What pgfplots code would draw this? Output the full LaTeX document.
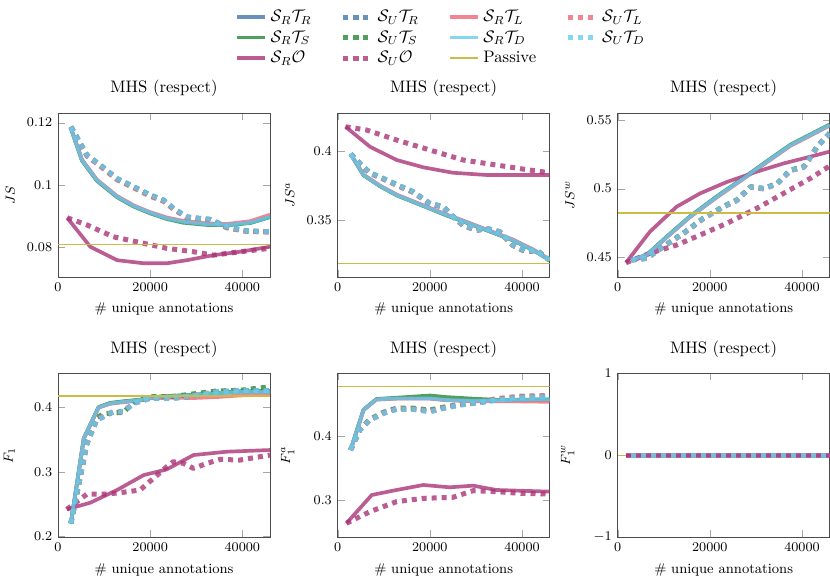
\documentclass[border=0pt]{standalone}
\usepackage{pgfplots}
\pgfplotsset{compat=1.18}
\usepackage{pgfplotstable}
\definecolor{tblue}{HTML}{4477AA}
\definecolor{tgreen}{HTML}{228833}
\definecolor{tpurple}{HTML}{AA3377}
\definecolor{tred}{HTML}{EE6677}
\definecolor{tcyan}{HTML}{66CCEE}
\definecolor{tyellow}{HTML}{CCBB44}
\pgfplotsset{
  sol/.style={line width=2.2pt, opacity=0.8},
  dot/.style={line width=3pt, opacity=0.8, dash pattern=on 3pt off 3pt},
  RR/.style={sol, tblue}, RS/.style={sol, tgreen}, RO/.style={sol, tpurple},
  RL/.style={sol, tred}, RD/.style={sol, tcyan},
  UR/.style={dot, tblue}, US/.style={dot, tgreen}, UO/.style={dot, tpurple},
  UL/.style={dot, tred}, UD/.style={dot, tcyan},
  PA/.style={tyellow, line width=0.9pt, opacity=1},
  mhs/.style={width=127.2pt, height=98.4pt, scale only axis,
    xmin=0, xmax=46000, xtick={0,20000,40000}, scaled ticks=false,
    xticklabel style={/pgf/number format/1000 sep={}},
    yticklabel style={/pgf/number format/fixed},
    title={MHS (respect)}, xlabel={\# unique annotations},
    tick label style={font=\fontsize{8.5}{10}\selectfont},
    label style={font=\fontsize{8.5}{10}\selectfont},
    ylabel style={at={(axis description cs:-0.176,0.5)}, anchor=south},
    axis line style={black!70}, tick style={black!35},
    every axis plot/.append style={line join=round}},
}
% ---------- panel 1: JS ----------
\pgfplotstableread{
x rr rs rl rd
2800 0.1182 0.1182 0.1183 0.1182
5200 0.1080 0.1078 0.1082 0.1080
8400 0.1016 0.1014 0.1018 0.1016
12800 0.0963 0.0961 0.0965 0.0963
16400 0.0933 0.0931 0.0935 0.0933
20000 0.0911 0.0909 0.0913 0.0911
23600 0.0893 0.0891 0.0896 0.0893
27200 0.0882 0.0879 0.0885 0.0882
32300 0.0874 0.0872 0.0877 0.0874
36600 0.0872 0.0871 0.0875 0.0872
41700 0.0879 0.0878 0.0884 0.0879
46000 0.0898 0.0897 0.0905 0.0898
}\pAs
\pgfplotstableread{
x ur us ul ud
2800 0.1187 0.1187 0.1186 0.1187
6300 0.1096 0.1094 0.1093 0.1096
9200 0.1064 0.1062 0.1060 0.1064
12800 0.1021 0.1019 0.1017 0.1021
16400 0.0995 0.0993 0.0991 0.0995
20000 0.0968 0.0966 0.0964 0.0968
22900 0.0952 0.0950 0.0948 0.0952
25100 0.0925 0.0923 0.0922 0.0925
27900 0.0898 0.0897 0.0896 0.0898
30800 0.0893 0.0892 0.0891 0.0893
33000 0.0890 0.0889 0.0888 0.0890
36600 0.0866 0.0864 0.0863 0.0866
40900 0.0853 0.0852 0.0851 0.0853
46000 0.0850 0.0850 0.0849 0.0850
}\pAd
% ---------- panel 2: JS^a ----------
\pgfplotstableread{
x rr rs rl rd
2800 0.3976 0.3976 0.3977 0.3976
5600 0.3825 0.3823 0.3828 0.3825
9200 0.3745 0.3743 0.3748 0.3745
12800 0.3680 0.3678 0.3684 0.3680
16400 0.3632 0.3630 0.3636 0.3632
20000 0.3584 0.3582 0.3588 0.3584
23600 0.3536 0.3533 0.3540 0.3536
27200 0.3493 0.3490 0.3497 0.3493
32300 0.3428 0.3426 0.3432 0.3428
38000 0.3356 0.3354 0.3360 0.3356
42400 0.3284 0.3283 0.3288 0.3284
46000 0.3212 0.3210 0.3215 0.3212
}\pBs
\pgfplotstableread{
x ur us ul ud
2800 0.3976 0.3976 0.3975 0.3976
4800 0.3909 0.3907 0.3905 0.3909
7000 0.3841 0.3839 0.3837 0.3841
9900 0.3800 0.3797 0.3795 0.3800
13500 0.3745 0.3742 0.3740 0.3745
16400 0.3704 0.3701 0.3699 0.3704
20000 0.3620 0.3618 0.3616 0.3620
22900 0.3596 0.3594 0.3592 0.3596
25100 0.3524 0.3522 0.3520 0.3524
27200 0.3464 0.3462 0.3460 0.3464
30100 0.3428 0.3426 0.3425 0.3428
32300 0.3440 0.3437 0.3436 0.3440
35200 0.3416 0.3413 0.3412 0.3416
38000 0.3320 0.3318 0.3317 0.3320
40900 0.3272 0.3270 0.3269 0.3272
43100 0.3284 0.3281 0.3280 0.3284
46000 0.3212 0.3210 0.3209 0.3212
}\pBd
% ---------- panel 3: JS^w ----------
\pgfplotstableread{
x rr rs rl rd
3000 0.4481 0.4481 0.4480 0.4481
6300 0.4517 0.4519 0.4515 0.4517
10700 0.4650 0.4653 0.4647 0.4650
15700 0.4796 0.4799 0.4793 0.4796
21500 0.4940 0.4944 0.4936 0.4940
27300 0.5075 0.5079 0.5071 0.5075
32400 0.5197 0.5201 0.5193 0.5197
37500 0.5317 0.5321 0.5312 0.5317
42500 0.5403 0.5407 0.5398 0.5403
46000 0.5464 0.5468 0.5459 0.5464
}\pCs
\pgfplotstableread{
x ur us ul ud
3000 0.4481 0.4481 0.4481 0.4481
6300 0.4493 0.4494 0.4492 0.4493
9900 0.4578 0.4580 0.4577 0.4578
14300 0.4675 0.4677 0.4674 0.4675
18600 0.4784 0.4786 0.4782 0.4784
23000 0.4869 0.4871 0.4867 0.4869
25900 0.4917 0.4919 0.4915 0.4917
28800 0.5012 0.5014 0.5010 0.5012
31700 0.5000 0.5002 0.4998 0.5000
34600 0.5036 0.5038 0.5034 0.5036
37500 0.5134 0.5136 0.5132 0.5134
40400 0.5158 0.5160 0.5156 0.5158
43300 0.5306 0.5308 0.5304 0.5306
46000 0.5403 0.5405 0.5401 0.5403
}\pCd
% ---------- panel 4: F1 ----------
\pgfplotstableread{
x rr rs rl rd
2800 0.2197 0.2197 0.2197 0.2197
5600 0.3518 0.3522 0.3515 0.3518
8800 0.4000 0.4005 0.3995 0.4000
11300 0.4062 0.4070 0.4055 0.4062
14200 0.4088 0.4095 0.4080 0.4088
17800 0.4114 0.4120 0.4105 0.4114
20000 0.4155 0.4160 0.4140 0.4155
25000 0.4176 0.4180 0.4150 0.4176
29400 0.4192 0.4195 0.4145 0.4192
34400 0.4218 0.4225 0.4160 0.4218
39500 0.4244 0.4250 0.4185 0.4244
46000 0.4244 0.4255 0.4200 0.4244
}\pDs
\pgfplotstableread{
x ur us ul ud
2800 0.2197 0.2197 0.2197 0.2197
6300 0.3440 0.3450 0.3445 0.3440
8400 0.3803 0.3840 0.3810 0.3803
9900 0.3855 0.3900 0.3870 0.3855
12000 0.3933 0.3915 0.3925 0.3933
14200 0.3933 0.3920 0.3930 0.3933
16400 0.4062 0.4080 0.4070 0.4062
20000 0.4140 0.4165 0.4150 0.4140
25000 0.4140 0.4170 0.4150 0.4140
29400 0.4176 0.4210 0.4185 0.4176
34400 0.4244 0.4255 0.4240 0.4244
39500 0.4260 0.4265 0.4250 0.4260
46000 0.4260 0.4320 0.4255 0.4260
}\pDd
% ---------- panel 5: F1^a ----------
\pgfplotstableread{
x rr rs rl rd
2800 0.3789 0.3789 0.3789 0.3789
5600 0.4421 0.4425 0.4418 0.4421
8400 0.4589 0.4595 0.4585 0.4589
12800 0.4605 0.4615 0.4600 0.4605
20000 0.4605 0.4650 0.4600 0.4605
23600 0.4579 0.4625 0.4575 0.4579
29400 0.4568 0.4600 0.4560 0.4568
36600 0.4579 0.4575 0.4560 0.4579
46000 0.4589 0.4585 0.4550 0.4589
}\pEs
\pgfplotstableread{
x ur us ul ud
2800 0.3789 0.3789 0.3789 0.3789
4800 0.4105 0.4110 0.4108 0.4105
7000 0.4263 0.4275 0.4268 0.4263
9900 0.4368 0.4385 0.4375 0.4368
12800 0.4432 0.4450 0.4440 0.4432
16400 0.4432 0.4450 0.4440 0.4432
20000 0.4395 0.4420 0.4405 0.4395
22900 0.4447 0.4465 0.4455 0.4447
26500 0.4500 0.4510 0.4505 0.4500
30800 0.4537 0.4545 0.4545 0.4537
34400 0.4579 0.4590 0.4600 0.4579
39500 0.4621 0.4630 0.4640 0.4621
46000 0.4632 0.4645 0.4650 0.4632
}\pEd
\begin{document}
\begin{tikzpicture}
\useasboundingbox (0pt,0pt) rectangle (498pt,349.2pt);
% ===== panel 1 =====
\begin{axis}[mhs, at={(34.8pt,183pt)}, anchor=south west,
  ymin=0.0705, ymax=0.1231, ytick={0.08,0.1,0.12}, ylabel={$JS$}]
\addplot[RR] table[y=rr]{\pAs};
\addplot[RS] table[y=rs]{\pAs};
\addplot[RL] table[y=rl]{\pAs};
\addplot[UR] table[y=ur]{\pAd};
\addplot[US] table[y=us]{\pAd};
\addplot[UL] table[y=ul]{\pAd};
\addplot[RO] coordinates {(2000,0.0895) (7000,0.0802) (12800,0.0759) (18600,0.0749) (23600,0.0749) (28000,0.0759) (33700,0.0775) (39500,0.0786) (46000,0.0802)};
\addplot[UO] coordinates {(2000,0.0895) (6300,0.0872) (12000,0.0834) (18600,0.0813) (23600,0.0797) (29400,0.0786) (33700,0.0775) (39500,0.0786) (46000,0.0797)};
\addplot[RD] table[y=rd]{\pAs};
\addplot[UD] table[y=ud]{\pAd};
\addplot[PA] coordinates {(0,0.0809) (46000,0.0809)};
\end{axis}
% ===== panel 2 =====
\begin{axis}[mhs, at={(202.6pt,183pt)}, anchor=south west,
  ymin=0.3089, ymax=0.4272, ytick={0.35,0.4}, ylabel={$JS^a$},
  legend style={at={(axis description cs:0.49,1.67)}, anchor=north, draw=none, fill=none,
    legend columns=4, font=\fontsize{10}{12}\selectfont,
    /tikz/every even column/.append style={column sep=15.5pt}},
  legend cell align=left]
\addlegendimage{RR}\addlegendimage{UR}\addlegendimage{RL}\addlegendimage{UL}
\addlegendimage{RS}\addlegendimage{US}\addlegendimage{RD}\addlegendimage{UD}
\addlegendimage{RO}\addlegendimage{UO}\addlegendimage{PA}
\legend{$\mathcal{S}_R\mathcal{T}_R$,$\mathcal{S}_U\mathcal{T}_R$,$\mathcal{S}_R\mathcal{T}_L$,$\mathcal{S}_U\mathcal{T}_L$,
  $\mathcal{S}_R\mathcal{T}_S$,$\mathcal{S}_U\mathcal{T}_S$,$\mathcal{S}_R\mathcal{T}_D$,$\mathcal{S}_U\mathcal{T}_D$,
  $\mathcal{S}_R\mathcal{O}$,$\mathcal{S}_U\mathcal{O}$,Passive}
\addplot[RR] table[y=rr]{\pBs};
\addplot[RS] table[y=rs]{\pBs};
\addplot[RL] table[y=rl]{\pBs};
\addplot[UR] table[y=ur]{\pBd};
\addplot[US] table[y=us]{\pBd};
\addplot[UL] table[y=ul]{\pBd};
\addplot[RO] coordinates {(1700,0.4173) (7000,0.4029) (12800,0.3933) (18600,0.3880) (25000,0.3841) (32300,0.3825) (39500,0.3825) (46000,0.3825)};
\addplot[UO] coordinates {(1700,0.4173) (6300,0.4149) (12800,0.4077) (20000,0.4005) (27200,0.3933) (34400,0.3897) (41700,0.3860) (46000,0.3841)};
\addplot[RD] table[y=rd]{\pBs};
\addplot[UD] table[y=ud]{\pBd};
\addplot[PA] coordinates {(0,0.3188) (46000,0.3188)};
\end{axis}
% ===== panel 3 =====
\begin{axis}[mhs, at={(370.6pt,183pt)}, anchor=south west,
  ymin=0.4357, ymax=0.5551, ytick={0.45,0.5,0.55}, ylabel={$JS^w$}]
\addplot[RR] table[y=rr]{\pCs};
\addplot[RS] table[y=rs]{\pCs};
\addplot[RL] table[y=rl]{\pCs};
\addplot[UR] table[y=ur]{\pCd};
\addplot[US] table[y=us]{\pCd};
\addplot[UL] table[y=ul]{\pCd};
\addplot[RO] coordinates {(1800,0.4461) (7000,0.4687) (12800,0.4869) (17900,0.4966) (23700,0.5049) (30200,0.5124) (36000,0.5184) (41800,0.5233) (46000,0.5270)};
\addplot[UO] coordinates {(1800,0.4461) (7000,0.4530) (12800,0.4590) (17900,0.4663) (23700,0.4748) (30200,0.4857) (36000,0.4966) (41800,0.5075) (46000,0.5165)};
\addplot[RD] table[y=rd]{\pCs};
\addplot[UD] table[y=ud]{\pCd};
\addplot[PA] coordinates {(0,0.4823) (46000,0.4823)};
\end{axis}
% ===== panel 4 =====
\begin{axis}[mhs, at={(34.8pt,26.8pt)}, anchor=south west,
  ymin=0.198, ymax=0.4529, ytick={0.2,0.3,0.4}, ylabel={$F_1$}]
\addplot[RR] table[y=rr]{\pDs};
\addplot[RS] table[y=rs]{\pDs};
\addplot[RL] table[y=rl]{\pDs};
\addplot[UR] table[y=ur]{\pDd};
\addplot[US] table[y=us]{\pDd};
\addplot[UL] table[y=ul]{\pDd};
\addplot[RO] coordinates {(1900,0.2415) (7000,0.2518) (12800,0.2715) (18600,0.2948) (23600,0.3036) (29400,0.3259) (36600,0.3311) (46000,0.3337)};
\addplot[UO] coordinates {(1900,0.2415) (6300,0.2653) (10600,0.2653) (13500,0.2674) (17800,0.2715) (20700,0.2896) (23600,0.3078) (25000,0.3155) (27200,0.3130) (29400,0.3052) (32300,0.3130) (35200,0.3192) (39500,0.3181) (46000,0.3259)};
\addplot[RD] table[y=rd]{\pDs};
\addplot[UD] table[y=ud]{\pDd};
\addplot[PA] coordinates {(0,0.4176) (46000,0.4176)};
\end{axis}
% ===== panel 5 =====
\begin{axis}[mhs, at={(202.6pt,26.8pt)}, anchor=south west,
  ymin=0.241, ymax=0.5, ytick={0.3,0.4}, ylabel={$F_1^a$}]
\addplot[RR] table[y=rr]{\pEs};
\addplot[RS] table[y=rs]{\pEs};
\addplot[RL] table[y=rl]{\pEs};
\addplot[UR] table[y=ur]{\pEd};
\addplot[US] table[y=us]{\pEd};
\addplot[UL] table[y=ul]{\pEd};
\addplot[RO] coordinates {(1900,0.2632) (7400,0.3079) (12800,0.3158) (18600,0.3237) (24300,0.3200) (29400,0.3226) (34400,0.3158) (46000,0.3132)};
\addplot[UO] coordinates {(1900,0.2632) (7000,0.2816) (12800,0.2974) (18600,0.3026) (25000,0.3042) (29400,0.3147) (34400,0.3132) (39500,0.3105) (46000,0.3095)};
\addplot[RD] table[y=rd]{\pEs};
\addplot[UD] table[y=ud]{\pEd};
\addplot[PA] coordinates {(0,0.4789) (46000,0.4789)};
\end{axis}
% ===== panel 6 =====
\begin{axis}[mhs, at={(370.6pt,26.8pt)}, anchor=south west,
  ymin=-1, ymax=1, ytick={-1,0,1}, ylabel={$F_1^w$}]
\addplot[PA] coordinates {(0,0) (46000,0)};
\addplot[RR] coordinates {(2800,0) (46000,0)};
\addplot[RS] coordinates {(2800,0) (46000,0)};
\addplot[RL] coordinates {(2800,0) (46000,0)};
\addplot[UR] coordinates {(2800,0) (46000,0)};
\addplot[US] coordinates {(2800,0) (46000,0)};
\addplot[RO] coordinates {(1800,0) (46000,0)};
\addplot[RD] coordinates {(2800,0) (46000,0)};
\addplot[UO] coordinates {(1800,0) (46000,0)};
\addplot[UL] coordinates {(2800,0) (46000,0)};
\addplot[UD] coordinates {(2800,0) (46000,0)};
\end{axis}
\end{tikzpicture}
\end{document}
